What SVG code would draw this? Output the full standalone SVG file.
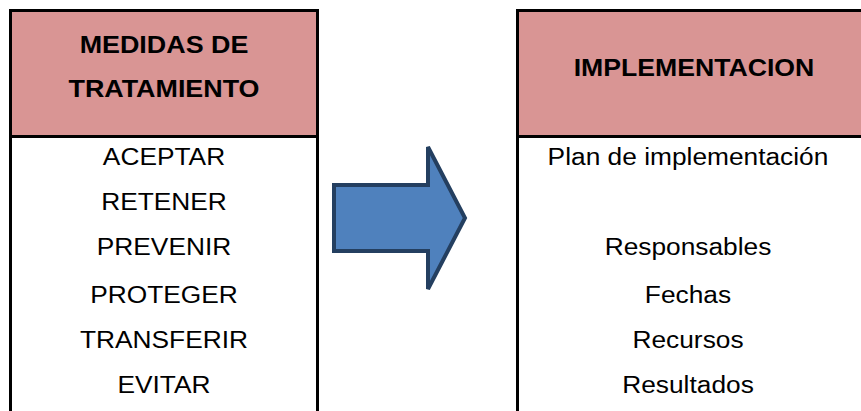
<svg xmlns="http://www.w3.org/2000/svg" width="861" height="411" viewBox="0 0 861 411">
  <style>
    .head { fill: #D99594; }
    .rule { stroke: #000; stroke-width: 3; fill: none; }
    .title { font-family: "Liberation Sans", Arial, sans-serif; font-size: 24px; font-weight: bold; fill: #000; text-anchor: middle; }
    .item { font-family: "Liberation Sans", Arial, sans-serif; font-size: 23.5px; fill: #000; text-anchor: middle; }
    .arrow { fill: #4F81BD; stroke: #243F60; stroke-width: 4; stroke-linejoin: miter; }
  </style>

  <rect width="861" height="411" fill="#fff"/>

  <!-- Treatment measures column -->
  <g id="medidas">
    <rect class="head" x="10.5" y="10.5" width="307" height="126"/>
    <path class="rule" d="M10.5,411 V10.5 H317.5 V411 M10.5,136.5 H317.5"/>
    <!-- labels are set slightly wide, centred on the column -->
    <g transform="translate(164,0) scale(1.12,1)">
      <text class="title" x="0" y="53">MEDIDAS DE</text>
      <text class="title" x="0" y="97">TRATAMIENTO</text>
      <text class="item" x="0" y="165">ACEPTAR</text>
      <text class="item" x="0" y="210">RETENER</text>
      <text class="item" x="0" y="255">PREVENIR</text>
      <text class="item" x="0" y="303">PROTEGER</text>
      <text class="item" x="0" y="348">TRANSFERIR</text>
      <text class="item" x="0" y="393">EVITAR</text>
    </g>
  </g>

  <!-- Block arrow between the columns -->
  <g id="connectors">
    <path class="arrow" d="M334,185 H428 V147 L465,218 L428,289 V251 H334 Z"/>
  </g>

  <!-- Implementation column -->
  <g id="implementacion">
    <rect class="head" x="517.5" y="10.5" width="343.5" height="126"/>
    <path class="rule" d="M517.5,411 V10.5 H861 M517.5,136.5 H861"/>
    <g transform="translate(694,0) scale(1.11,1)">
      <text class="title" x="0" y="76">IMPLEMENTACION</text>
    </g>
    <g transform="translate(688,0) scale(1.12,1)">
      <text class="item" x="0" y="165">Plan de implementación</text>
      <text class="item" x="0" y="255">Responsables</text>
      <text class="item" x="0" y="303">Fechas</text>
      <text class="item" x="0" y="348">Recursos</text>
      <text class="item" x="0" y="393">Resultados</text>
    </g>
  </g>
</svg>
